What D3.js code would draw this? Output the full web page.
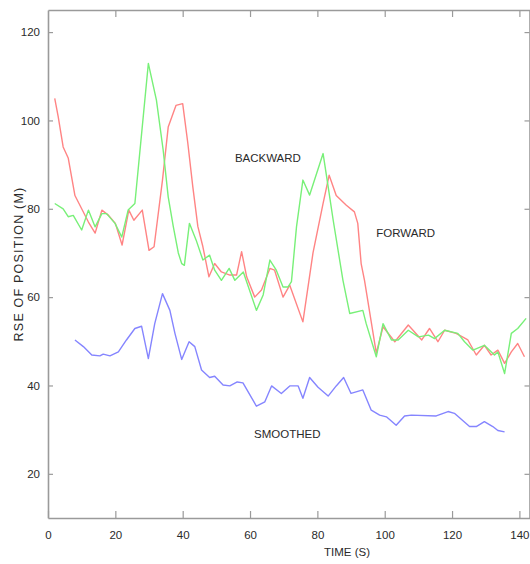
<!DOCTYPE html>
<html>
<head>
<meta charset="utf-8">
<script src="https://cdn.jsdelivr.net/npm/d3@7/dist/d3.min.js"></script>
<style>
  body { margin: 0; background: #fff; }
  text { font-family: "Liberation Sans", Arial, sans-serif; fill: #2a2a2a; }
</style>
</head>
<body>
<svg id="chart" width="530" height="564"></svg>
<script>
// Axis ticks
const xTickValues = [0, 20, 40, 60, 80, 100, 120, 140];
const yTickValues = [20, 40, 60, 80, 100, 120];
const xDomain = [0, 143];
const yDomain = [10, 125];

// Forward filter error (red)
const forwardTime = [2, 3, 4.5, 6, 8, 10, 12, 14, 16, 18, 20, 22, 24, 25.5, 28, 30, 31.5, 34, 35.7, 38, 40,
  41.5, 43, 44.5, 46, 47.8, 49.5, 51.5, 54, 56, 57.5, 59, 61.4, 63.4, 65.9, 67.3, 69.8, 71.8, 75.7,
  78.7, 81.7, 83.5, 85.6, 88.6, 91, 92, 93, 94, 97.5, 99.5, 103, 107, 111, 113.3, 115.8, 117.8,
  121.2, 124.7, 127.2, 129.6, 131.6, 133.6, 135.6, 137.6, 139.5, 141.5];
const forwardRse = [105, 101, 94, 91.5, 83, 80, 77, 74.5, 79.7, 78.5, 76.7, 71.8, 79.7, 77.4, 79.7, 70.6, 71.4, 86.5, 98.5, 103.4, 103.8,
  95, 85, 76, 71.4, 64.6, 67.6, 65.7, 65, 65, 70.3, 64.6, 60, 61.6, 66.5, 66.1, 60, 62.7, 54.4,
  70, 81.2, 87.6, 83, 80.8, 79.3, 76.7, 67.6, 63.8, 47.3, 53.3, 49.9, 53.7, 50.3, 52.9, 49.9, 52.5,
  51.8, 50.3, 46.9, 49.1, 46.9, 48, 45, 47.6, 49.5, 46.5];

// Backward filter error (green)
const backwardTime = [2, 4.5, 6, 7.5, 10, 12, 14, 16, 17.4, 19.9, 21.9, 23.8, 25.8, 27.8, 29.8, 32.2, 34.2, 35.7,
  37.2, 38.7, 39.7, 40.5, 42, 44, 46, 48, 49.5, 51.5, 53.8, 55.5, 58, 61.9, 63.9, 65.9, 67.8, 69.8,
  71.3, 72.3, 73.8, 75.7, 77.7, 81.7, 83.2, 84.7, 87.6, 89.6, 93.5, 94.5, 97.5, 99.5, 102, 104, 107,
  110, 113, 114.8, 117.8, 121.7, 123.7, 126.2, 129.6, 132.6, 133.6, 135.6, 137.6, 139.5, 142];
const backwardRse = [81.2, 80, 78.2, 78.5, 75.2, 79.7, 75.9, 78.9, 78.9, 76.7, 73.6, 79.7, 81.2, 97, 112.9, 104.6, 93.3, 82.7,
  76, 70, 67.6, 67.2, 76.7, 72.9, 68.4, 69.5, 66.1, 63.8, 66.5, 63.8, 65.7, 57, 60.5, 68.4, 66.1, 62.3,
  62.3, 63.5, 75.9, 86.5, 83.1, 92.5, 85, 77.4, 63.8, 56.3, 57, 54, 46.5, 54, 50.3, 50.3, 52.5,
  51, 51.4, 50.6, 52.5, 51.8, 49.9, 48, 49.1, 46.9, 47.6, 42.7, 51.8, 52.9, 55.2];

// Smoothed error (blue)
const smoothedTime = [8, 10.5, 13, 15.4, 16.4, 18.4, 20.9, 23.3, 25.8, 27.8, 29.8, 31.7, 34, 36.2, 37.7, 39.7,
  41.9, 43.6, 45.6, 48, 49.5, 52, 54, 56.2, 57.9, 61.9, 64.4, 66.4, 69.3, 71.8, 74.3, 75.7, 77.7,
  80.2, 83.2, 85.6, 87.8, 90, 93.5, 96, 98.5, 100.5, 103.4, 105.9, 107.9, 115.3, 118.8, 120.7,
  125.2, 127.2, 129.6, 132.1, 133.6, 135.6];
const smoothedRse = [50.3, 48.8, 46.9, 46.7, 47.1, 46.7, 47.6, 50.3, 52.9, 53.4, 46.1, 54, 60.8, 57, 51.8, 45.9,
  49.9, 48.8, 43.5, 41.8, 42.1, 40.1, 39.9, 40.8, 40.6, 35.3, 36.3, 39.9, 38.2, 39.9, 39.9, 37.1, 41.8,
  39.6, 37.6, 39.9, 41.8, 38.2, 39, 34.4, 33.3, 32.9, 31, 33.1, 33.3, 33.1, 34.1, 33.7,
  30.7, 30.7, 31.8, 30.7, 29.8, 29.5];

// Curve labels: [text, time, rse]
const curveLabels = [
  ["BACKWARD", 55.5, 90.5],
  ["FORWARD", 97.5, 73.5],
  ["SMOOTHED", 61.2, 28.2]
];

const svg = d3.select("#chart");
const plotLeft = 48, plotRight = 529.5, plotTop = 10, plotBottom = 518;

const x = d3.scaleLinear().domain(xDomain).range([plotLeft, plotRight]);
const y = d3.scaleLinear().domain(yDomain).range([plotBottom, plotTop]);

const axisColor = "#9a9a9a";

// Frame with inward ticks on all four sides
const axes = [
  { g: d3.axisBottom(x).tickValues(xTickValues).tickSizeInner(-7).tickSizeOuter(0).tickPadding(13), t: `translate(0,${plotBottom})`, labels: true },
  { g: d3.axisTop(x).tickValues(xTickValues.filter(v => v > 0)).tickSizeInner(-7).tickSizeOuter(0), t: `translate(0,${plotTop})`, labels: false },
  { g: d3.axisLeft(y).tickValues(yTickValues).tickSizeInner(-5).tickSizeOuter(0).tickPadding(8), t: `translate(${plotLeft},0)`, labels: true },
  { g: d3.axisRight(y).tickValues(yTickValues).tickSizeInner(-5).tickSizeOuter(0), t: `translate(${plotRight},0)`, labels: false }
];
axes.forEach(a => {
  const g = svg.append("g").attr("transform", a.t).call(a.g);
  g.select(".domain").attr("stroke", axisColor).attr("stroke-width", 1.6);
  g.selectAll(".tick line").attr("stroke", axisColor).attr("stroke-width", 1.2);
  if (a.labels) {
    g.selectAll(".tick text").attr("font-size", 11.5).attr("fill", "#333")
      .style("font-family", "'Liberation Sans', Arial, sans-serif");
  } else {
    g.selectAll(".tick text").remove();
  }
});

const line = d3.line().x(d => x(d[0])).y(d => y(d[1]));
const series = [
  { t: forwardTime, v: forwardRse, color: "#ff8484" },
  { t: backwardTime, v: backwardRse, color: "#78f078" },
  { t: smoothedTime, v: smoothedRse, color: "#8585ff" }
];
series.forEach(s => {
  svg.append("path")
    .datum(d3.zip(s.t, s.v))
    .attr("d", line)
    .attr("fill", "none")
    .attr("stroke", s.color)
    .attr("stroke-width", 1.4)
    .attr("stroke-linejoin", "round");
});

curveLabels.forEach(([txt, t, v]) => {
  svg.append("text")
    .attr("x", x(t)).attr("y", y(v))
    .attr("font-size", 11.5)
    .text(txt);
});

// Axis titles
svg.append("text")
  .attr("x", (x(80) + x(100)) / 2 - 27).attr("y", 556)
  .attr("font-size", 11.5)
  .text("TIME (S)");

svg.append("text")
  .attr("transform", `translate(23,${(plotTop + plotBottom) / 2}) rotate(-90)`)
  .attr("text-anchor", "middle")
  .attr("font-size", 12.5)
  .attr("letter-spacing", 1.2)
  .text("RSE OF POSITION (M)");
</script>
</body>
</html>
